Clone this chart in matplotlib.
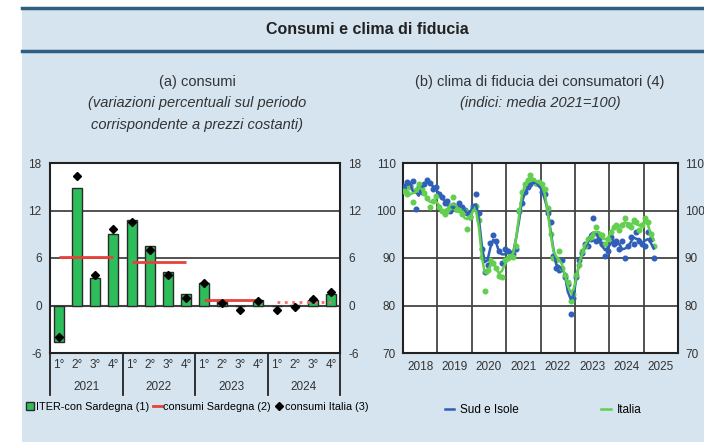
import matplotlib.pyplot as plt
import matplotlib.lines as mlines
import matplotlib.patches as mpatches
import numpy as np
import pandas as pd

plt.rcParams['font.family'] = ['Liberation Sans Narrow', 'Liberation Sans', 'DejaVu Sans']

BG = '#d5e4ef'
BAR_GREEN = '#2ebd5b'
RED = '#e8413a'
BLUE = '#2f5fb8'
GREEN = '#62cf4e'

# ---- panel (a): consumi ----
quarters = ['1°', '2°', '3°', '4°'] * 4
years_a = ['2021', '2022', '2023', '2024']
iter_con = [-4.6, 14.9, 3.5, 9.0, 10.8, 7.5, 4.2, 1.5, 2.9, 0.6, -0.1, 0.7, -0.1, 0.1, 0.7, 1.5]
consumi_italia = [-4.0, 16.3, 3.9, 9.7, 10.6, 7.0, 3.9, 0.9, 2.8, 0.3, -0.6, 0.6, -0.6, -0.2, 0.8, 1.7]
consumi_sardegna = [6.1, 5.5, 0.7, 0.4]  # annual, last one provisional (dotted)

# ---- panel (b): clima di fiducia, monthly Jan 2018 - Apr 2025 ----
sud_isole = [
    104.8, 106.0, 105.2, 106.3, 100.3, 105.0, 104.0, 105.6, 106.5, 105.8, 104.6, 104.9,
    103.5, 102.8, 101.5, 102.0, 99.8, 101.2, 100.4, 101.6, 100.8, 100.2, 99.4, 98.6,
    101.0, 103.4, 99.5, 91.8, 87.0, 88.5, 93.2, 94.8, 93.5, 91.5, 89.0, 91.8,
    91.5, 91.0, 90.8, 92.0, 99.8, 101.5, 104.0, 105.0, 105.5, 106.2, 105.8, 105.5,
    104.0, 103.5, 99.5, 97.5, 90.5, 87.8, 87.5, 89.5, 86.0, 84.5, 78.3, 81.5,
    86.0, 89.5, 91.0, 93.0, 92.5, 94.0, 98.5, 93.5, 94.0, 93.0, 90.5, 91.5,
    94.5, 93.0, 93.5, 92.0, 93.5, 90.0, 92.5, 94.5, 93.0, 95.5, 93.5, 93.0,
    92.5, 95.5, 94.0, 90.0,
]
italia = [
    104.2, 103.5, 105.0, 101.7, 104.3, 105.6, 104.5, 103.6, 102.6, 100.8, 102.0, 103.0,
    100.8, 99.8, 99.2, 100.1, 100.8, 102.8, 100.4, 100.1, 99.2, 99.8, 96.2, 98.6,
    100.5, 101.0, 98.0, 90.3, 83.0, 87.5, 89.5, 89.0, 88.0, 86.3, 86.0, 89.5,
    90.0, 90.5, 90.2, 92.5, 100.2, 103.8, 105.5, 106.5, 107.5, 106.5, 105.8, 106.0,
    105.5, 104.5, 100.5, 95.0, 90.0, 89.5, 91.5, 88.0, 86.5, 85.0, 81.0, 82.5,
    86.5, 88.5, 91.5, 92.5, 94.0, 94.5, 95.0, 96.5, 95.0, 94.8, 93.0, 94.0,
    95.5, 96.5, 97.0, 96.0, 97.0, 98.5, 97.0, 96.5, 98.0, 97.5, 96.0, 97.0,
    98.5, 97.5, 95.0, 92.5,
]
months = pd.date_range('2018-01-01', periods=len(sud_isole), freq='MS')
t = months.year + (months.month - 1) / 12 + 1 / 24

fig = plt.figure(figsize=(7.04, 4.42), dpi=100)
fig.patch.set_facecolor('white')

# background panel and header lines
bg = mpatches.Rectangle((22 / 704, 0), 1, 1 - 8 / 442, transform=fig.transFigure,
                        facecolor=BG, edgecolor='none', zorder=-10)
fig.patches.append(bg)
for yy in (8, 51):
    fig.add_artist(mlines.Line2D([22 / 704, 1], [1 - yy / 442] * 2, color='#2f5f7e', lw=2.5))
fig.text(367 / 704, 1 - 30 / 442, 'Consumi e clima di fiducia', ha='center', va='center',
         fontsize=11.5, fontweight='bold', color='#222')

# subtitles
fig.text(197 / 704, 1 - 82 / 442, '(a) consumi', ha='center', va='center', fontsize=10.5, color='#333')
fig.text(197 / 704, 1 - 103 / 442, '(variazioni percentuali sul periodo', ha='center', va='center',
         fontsize=10.5, style='italic', color='#333')
fig.text(197 / 704, 1 - 125 / 442, 'corrispondente a prezzi costanti)', ha='center', va='center',
         fontsize=10.5, style='italic', color='#333')
fig.text(540 / 704, 1 - 82 / 442, '(b) clima di fiducia dei consumatori (4)', ha='center', va='center',
         fontsize=10.5, color='#333')
fig.text(540 / 704, 1 - 103 / 442, '(indici: media 2021=100)', ha='center', va='center',
         fontsize=10.5, style='italic', color='#333')

bottom = 1 - 353 / 442
height = (353 - 163) / 442

# ---- left chart ----
ax1 = fig.add_axes([50 / 704, bottom, 290 / 704, height])
x = np.arange(len(iter_con))
ax1.set_axisbelow(True)
bars = ax1.bar(x, iter_con, width=0.55, color=BAR_GREEN, edgecolor='#2a2a2a', lw=1.0, zorder=2)
for i, v in enumerate(consumi_sardegna):
    ls = '-' if i < 3 else ':'
    col = RED if i < 3 else '#f07070'
    ax1.hlines(v, 4 * i, 4 * i + 3, color=col, lw=2, linestyles=ls, zorder=3)
dots, = ax1.plot(x, consumi_italia, 'D', color='black', ms=3.8, zorder=4)
ax1.axhline(0, color='#444', lw=1.5, zorder=1)
ax1.set_xlim(-0.5, 15.5)
ax1.set_ylim(-6, 18)
ax1.set_yticks([-6, 0, 6, 12, 18])
ax1.set_yticklabels(['-6', '0', '6', '12', '18'])
ax1.grid(axis='y', color='#444', lw=1.3)
ax1.set_xticks(x)
ax1.set_xticklabels(quarters, fontsize=8.5, color='#333')
ax1.tick_params(axis='x', length=0, pad=4)
ax1.tick_params(axis='y', length=0, labelright=True, labelsize=8.5, labelcolor='#333', pad=6)
for s in ax1.spines.values():
    s.set_color('#222')
    s.set_linewidth(1.5)
for k, yr in enumerate(years_a):
    ax1.text(4 * k + 1.5, -0.18, yr, transform=ax1.get_xaxis_transform(), ha='center', va='center',
             fontsize=8.5, color='#333')
for sx in [-0.5, 3.5, 7.5, 11.5, 15.5]:
    ax1.plot([sx, sx], [0, -0.22], transform=ax1.get_xaxis_transform(), color='#222', lw=1.3,
             clip_on=False)

red_handle = mlines.Line2D([], [], color=RED, lw=2)
fig.legend([bars, red_handle, dots], ['ITER-con Sardegna (1)', 'consumi Sardegna (2)', 'consumi Italia (3)'],
           loc='center', bbox_to_anchor=(197 / 704, 1 - 407 / 442), ncol=3, frameon=False,
           fontsize=7.8, handlelength=0.8, handletextpad=0.15, columnspacing=0.35, borderpad=0)

# ---- right chart ----
ax2 = fig.add_axes([403 / 704, bottom, 275 / 704, height])
sud_s = pd.Series(sud_isole).rolling(3, center=True, min_periods=1).mean()
ita_s = pd.Series(italia).rolling(3, center=True, min_periods=1).mean()
ax2.scatter(t, sud_isole, s=11, color=BLUE, zorder=3)
ax2.scatter(t, italia, s=11, color=GREEN, zorder=3)
ax2.plot(t, sud_s, color=BLUE, lw=1.8, zorder=4, label='Sud e Isole')
ax2.plot(t, ita_s, color=GREEN, lw=1.8, zorder=4, label='Italia')
ax2.set_xlim(2018, 2026)
ax2.set_ylim(70, 110)
ax2.set_yticks([70, 80, 90, 100, 110])
ax2.set_xticks(range(2018, 2027))
ax2.set_xticklabels([])
ax2.set_xticks(np.arange(2018.5, 2026, 1), minor=True)
ax2.set_xticklabels([str(y) for y in range(2018, 2026)], minor=True, fontsize=8.5, color='#333')
ax2.tick_params(axis='x', which='both', length=0, pad=6)
ax2.tick_params(axis='y', length=0, labelright=True, labelsize=8.5, labelcolor='#333', pad=5)
ax2.grid(which='major', color='#444', lw=1.3)
ax2.set_axisbelow(True)
for s in ax2.spines.values():
    s.set_color('#222')
    s.set_linewidth(1.5)

h2, l2 = ax2.get_legend_handles_labels()
fig.legend(h2, l2, loc='center', bbox_to_anchor=(543 / 704, 1 - 410 / 442), ncol=2, frameon=False,
           fontsize=8.5, handlelength=0.8, handletextpad=0.5, columnspacing=7, borderpad=0)

fig.savefig('out.png', dpi=100, facecolor=fig.get_facecolor())
